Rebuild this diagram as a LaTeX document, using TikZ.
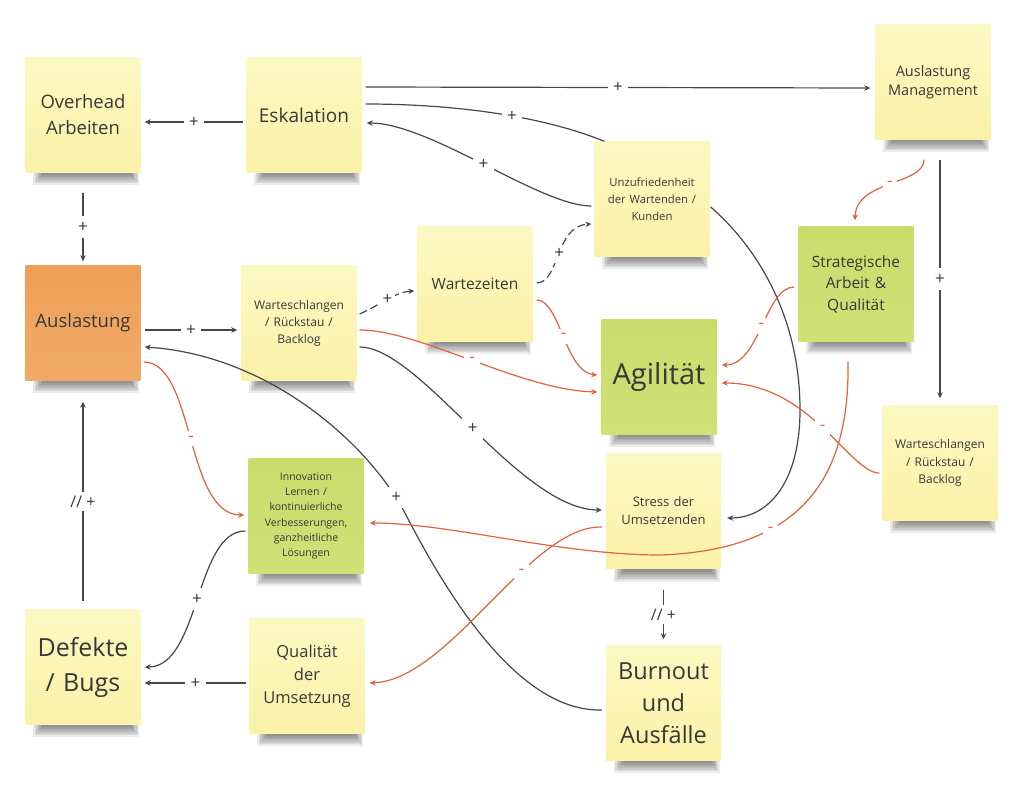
\documentclass[tikz,border=0pt]{standalone}
\usepackage{fontspec}
\setmainfont{Open Sans}
\usetikzlibrary{calc,arrows.meta}
\definecolor{ylT}{HTML}{FCF8C2}
\definecolor{ylB}{HTML}{FBF2A8}
\definecolor{grT}{HTML}{C9DC6B}
\definecolor{grB}{HTML}{D0E177}
\definecolor{orT}{HTML}{EE9F58}
\definecolor{orB}{HTML}{F1AA66}
\definecolor{ink}{HTML}{383838}
\definecolor{lk}{HTML}{474747}
\definecolor{rd}{HTML}{E2623F}
\tikzset{
 note/.style={minimum width=115pt, minimum height=115pt, inner sep=0pt, text width=110pt, align=center, text=ink},
 yel/.style={note, top color=ylT, bottom color=ylB},
 grn/.style={note, top color=grT, bottom color=grB},
 org/.style={note, top color=orT, bottom color=orB},
 lnk/.style={draw=lk, line width=1.2pt, -{Stealth[length=6pt,width=5.5pt]}},
 rlnk/.style={draw=rd, line width=1.2pt, -{Stealth[length=6pt,width=5.5pt]}},
 plain/.style={draw=lk, line width=1.2pt},
 dsh/.style={dash pattern=on 8pt off 4pt},
 plus/.style={fill=white, inner sep=5.5pt, text=ink, font=\fontsize{17}{17}\selectfont},
 dplus/.style={fill=white, inner xsep=2pt, inner ysep=4pt, text=ink, font=\fontsize{16}{16}\selectfont},
 minus/.style={fill=white, inner sep=5pt, text=rd, font=\fontsize{17}{17}\selectfont},
}
\newcommand\nshadow[2]{%
 \foreach \k in {0,...,7}{%
   \fill[black,opacity=0.075] ({#1-50+\k*1.5},{#2+52}) rectangle ({#1+56-\k*1.2},{#2+70-1.7*\k});
 }}
\begin{document}
\begin{tikzpicture}[x=1pt,y=-1pt]
\useasboundingbox (0,0) rectangle (1024,787);
\fill[white] (0,0) rectangle (1024,787);
% shadows
\nshadow{83}{115}
\nshadow{304}{115}
\nshadow{933}{82}
\nshadow{83}{323}
\nshadow{299}{323}
\nshadow{475}{284}
\nshadow{652}{199}
\nshadow{856}{284}
\nshadow{659}{377}
\nshadow{940}{463}
\nshadow{663.5}{512}
\nshadow{306}{516}
\nshadow{83}{667}
\nshadow{307}{676}
\nshadow{663.5}{703}
% notes
\node[yel, font=\fontsize{18.5}{26}\selectfont] (ovh) at (83,115) {Overhead\\Arbeiten};
\node[yel, font=\fontsize{19}{24}\selectfont] (esk) at (304,115) {Eskalation};
\node[yel, font=\fontsize{14.5}{19}\selectfont] (mgmt) at (933,82) {Auslastung\\Management};
\node[org, font=\fontsize{18.5}{24}\selectfont] (ausl) at (83,323) {Auslastung};
\node[yel, font=\fontsize{12}{17}\selectfont] (wsl) at (299,323) {Warteschlangen\\/ Rückstau /\\Backlog};
\node[yel, font=\fontsize{15.5}{20}\selectfont] (wz) at (475,284) {Wartezeiten};
\node[yel, font=\fontsize{11.3}{17}\selectfont] (unz) at (652,199) {Unzufriedenheit\\der Wartenden /\\Kunden};
\node[grn, font=\fontsize{15.5}{21.5}\selectfont] (strat) at (856,284) {Strategische\\Arbeit \&\\Qualität};
\node[grn, font=\fontsize{29}{34}\selectfont] (agi) at (659,377) {Agilität};
\node[yel, font=\fontsize{12}{17.5}\selectfont] (wsr) at (940,463) {Warteschlangen\\/ Rückstau /\\Backlog};
\node[yel, font=\fontsize{13}{18}\selectfont] (stress) at (663.5,511) {Stress der\\Umsetzenden};
\node[grn, font=\fontsize{10.5}{15.2}\selectfont] (inno) at (306,516) {Innovation\\Lernen /\\kontinuierliche\\Verbesserungen,\\ganzheitliche\\Lösungen};
\node[yel, font=\fontsize{25}{35}\selectfont] (def) at (83,667) {Defekte\\/ Bugs};
\node[yel, font=\fontsize{16.5}{23}\selectfont] (qual) at (307,676) {Qualität\\der\\Umsetzung};
\node[yel, font=\fontsize{23.5}{32}\selectfont] (burn) at (663.5,703) {Burnout\\und\\Ausfälle};
% connectors
\draw[lnk] ($(esk.west)+(-3,7)$) -- node[plus]{+} ($(ovh.east)+(4,7)$);
\draw[lnk] ($(ovh.south)+(0,20)$) -- node[plus]{+} ($(ausl.north)+(0,-4)$);
\draw[lnk] ($(esk.east)+(4,-28)$) -- node[plus]{+} ($(mgmt.west)+(-5,6)$);
\draw[plain] ($(esk.east)+(4,-11)$) .. controls (450,104) and (540,115) .. node[plus,pos=0.58]{+} ($(unz.north west)+(10,0)$);
\draw[lnk] ($(unz.west)+(-3,7)$) .. controls (540,206) and (430,123) .. node[plus]{+} ($(esk.east)+(5,8)$);
\draw[lnk] ($(ausl.east)+(4,7)$) -- node[plus]{+} ($(wsl.west)+(-4,7)$);
\draw[lnk,dsh] ($(wsl.east)+(3,-9)$) .. controls (380,305) and (395,292) .. node[plus,inner sep=3pt]{+} ($(wz.west)+(-3,7)$);
\draw[lnk,dsh] ($(wz.east)+(4,-1)$) .. controls (560,282) and (555,226) .. node[plus,inner sep=4pt]{+} ($(unz.west)+(-3,25)$);
\draw[rlnk] ($(wz.east)+(4,16)$) .. controls (560,300) and (565,372) .. node[minus]{-} ($(agi.west)+(-4,-2)$);
\draw[rlnk] ($(wsl.east)+(3,7)$) .. controls (420,330) and (520,390) .. node[minus]{-} ($(agi.west)+(-4,15)$);
\draw[lnk] ($(wsl.east)+(3,24)$) .. controls (420,347) and (520,510) .. node[plus]{+} ($(stress.west)+(-4,-1)$);
\draw[rlnk] ($(ausl.east)+(3,39)$) .. controls (195,362) and (185,515) .. node[minus]{-} ($(inno.west)+(-4,-1)$);
\draw[lnk] ($(burn.west)+(-4,7)$) .. controls (520,712) and (450,600) .. (406,515) .. controls (370,445) and (270,355) .. node[plus,pos=0.08]{+} ($(ausl.east)+(4,24)$);
\draw[lnk] ($(def.north)+(0,-8)$) -- node[dplus]{// +} ($(ausl.south)+(0,21)$);
\draw[lnk] ($(inno.west)+(-3,15)$) .. controls (195,531) and (200,667) .. node[plus]{+} ($(def.east)+(4,0)$);
\draw[lnk] ($(qual.west)+(-3,7)$) -- node[plus]{+} ($(def.east)+(4,16)$);
\draw[rlnk] ($(strat.south)+(-8,20)$) .. controls (850,480) and (800,550) .. node[minus,pos=0.67]{-} (660,555) .. controls (560,555) and (450,523) .. ($(inno.east)+(6,7)$);
\draw[rlnk] ($(stress.west)+(-4,16)$) .. controls (530,525) and (450,680) .. node[minus,pos=0.36]{-} ($(qual.east)+(5,7)$);
\draw[lnk] ($(unz.east)+(1,8)$) .. controls (760,250) and (800,320) .. (800,410) .. controls (800,480) and (770,518) .. ($(stress.east)+(6,7)$);
\draw[rlnk] ($(mgmt.south)+(-9,20)$) .. controls (924,185) and (856,180) .. node[minus,inner sep=4pt]{-} ($(strat.north)+(-1,-6)$);
\draw[lnk] ($(mgmt.south)+(7,20)$) -- node[plus]{+} ($(wsr.north)+(0,-7)$);
\draw[rlnk] ($(strat.west)+(-4,3)$) .. controls (765,287) and (760,365) .. node[minus]{-} ($(agi.east)+(5,-12)$);
\draw[rlnk] ($(wsr.west)+(-3,10)$) .. controls (850,473) and (810,383) .. node[minus]{-} ($(agi.east)+(5,6)$);
\draw[lnk] ($(stress.south)+(0,21)$) -- node[dplus]{// +} ($(burn.north)+(0,-6)$);
\end{tikzpicture}
\end{document}
